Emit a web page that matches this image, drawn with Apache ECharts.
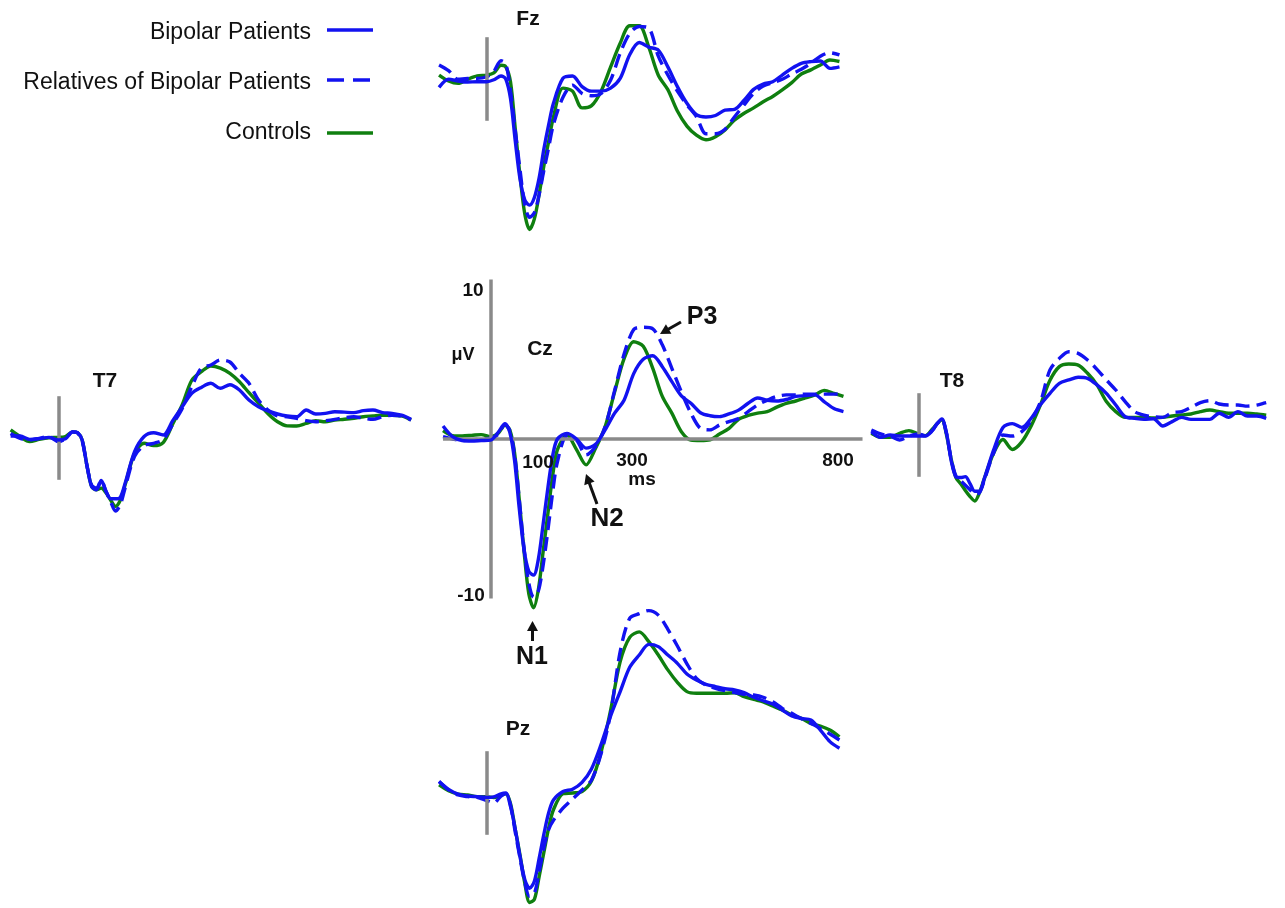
<!DOCTYPE html>
<html>
<head>
<meta charset="utf-8">
<script src="https://cdn.jsdelivr.net/npm/echarts@6/dist/echarts.min.js"></script>
<style>
html,body{margin:0;padding:0;background:#ffffff;}
#chart{width:1285px;height:908px;}
</style>
</head>
<body>
<div id="chart"></div>
<script>
// ---------------- DATA ----------------
// sample times (ms)
const times = [-100,-80,-60,-40,-20,0,15,30,40,50,60,70,80,90,100,110,120,130,140,160,180,200,220,240,260,280,300,320,340,360,380,400,420,440,460,480,500,520,540,560,580,600,620,640,660,680,700,720,740];

const groupNames = ['Bipolar Patients', 'Relatives of Bipolar Patients', 'Controls'];
const electrodeNames = ['Fz', 'T7', 'Cz', 'T8', 'Pz'];
const xTickLabels = ['100', '300', '800'];
const yTickLabels = ['10', '-10'];
const xUnit = 'ms';
const yUnit = 'μV';
const componentLabels = ['P3', 'N2', 'N1'];

// amplitudes (µV)
const fzBipolar   = [-0.55,-0.02,-0.13,-0.2,-0.18,-0.18,-0.05,0.2, 0.0,-1.3,-4.1,-6.6,-7.96,-8.3,-7.8,-6.5,-4.6,-3.0,-1.6, 0.05,0.2,-0.5,-0.8,-0.8,-0.6,0.04,1.6,2.4,2.1,1.9,0.8,-0.5,-1.6,-2.35,-2.5,-2.4,-2.05,-2.0,-1.4,-0.68,-0.33,-0.18,0.26,0.7,1.03,1.14,1.18,0.7,0.8];
const fzRelatives = [0.92,0.55,-0.02,0.04,0.04,0.15,0.5,1.2, 1.0,-0.8,-3.4,-6.0,-8.3,-9.1,-8.8,-7.6,-6.0,-4.5,-3.0, -1.2,-0.4,-0.95,-1.1,-0.95,-0.07,1.7,3.0,3.45,3.35,1.5,0.26,-0.8,-1.7,-2.48,-3.6,-3.6,-3.3,-2.48,-1.7,-0.95,-0.46,-0.24,-0.02,0.33,0.64,1.03,1.5,1.73,1.58];
const fzControls  = [0.26,-0.13,-0.29,-0.02,0.2,0.26,0.4,0.9, 0.8,-0.2,-3.3,-6.4,-8.9,-9.9,-9.2,-7.6,-5.7,-4.1,-2.5, -0.6,-0.8,-1.9,-1.75,-0.8,0.8,2.35,3.5,3.5,2.1,0.25,-0.7,-2.1,-3.1,-3.7,-4.0,-3.8,-3.35,-2.7,-2.25,-1.9,-1.5,-1.15,-0.72,-0.24,0.33,0.6,0.92,1.25,1.15];

const t7Bipolar   = [0.13,0.13,-0.09,-0.04,0.04,-0.13,-0.05,0.4, 0.35,-0.13,-1.8,-3.2,-3.4,-2.8,-3.5,-4.0,-4.0,-3.9,-3.0, -0.9,0.1,0.35,0.2,1.14,2.06,2.94,3.33,3.6,3.27,3.5,3.16,2.5,2.06,1.78,1.58,1.45,1.4,1.84,1.58,1.62,1.73,1.7,1.67,1.8,1.84,1.67,1.62,1.5,1.23];
const t7Relatives = [0.3,-0.02,-0.13,-0.02,0.09,-0.24,-0.05,0.4, 0.35,-0.2,-1.8,-3.1,-3.3,-2.8,-3.5,-4.2,-4.8,-4.4,-3.3, -1.2,-0.5,-0.35,-0.1,0.9,1.95,3.38,4.6,4.8,5.13,5.0,4.25,3.6,2.5,1.84,1.45,1.4,1.3,1.14,1.07,1.14,1.23,1.34,1.4,1.3,1.23,1.4,1.5,1.45,1.18];
const t7Controls  = [0.53,0.09,-0.24,-0.09,0.02,0.04,0.1,0.4, 0.35,-0.13,-1.8,-3.2,-3.4,-3.3,-3.6,-4.1,-4.5,-4.1,-3.1, -1.0,-0.35,-0.5,-0.3,0.92,2.2,3.8,4.36,4.74,4.6,4.25,3.7,2.98,2.3,1.6,1.07,0.8,0.79,0.96,1.14,1.07,1.18,1.23,1.3,1.4,1.45,1.5,1.5,1.45,1.18];

const czBipolar   = [0.85,0.15,-0.1,-0.13,-0.1,-0.07,0.4,1.0, 0.45,-1.4,-4.6,-7.3,-8.7,-8.95,-7.9,-5.6,-3.2,-1.1,0.0, 0.37,0.0,-0.6,-0.35,0.6,1.7,2.57,4.3,5.24,5.48,4.76,3.77,2.83,2.35,1.73,1.53,1.47,1.65,1.9,2.35,2.7,2.55,2.5,2.6,2.8,2.85,2.9,2.45,2.0,1.8];
const czRelatives = [0.15,0,-0.1,-0.07,0,0.05,0.3,0.95, 0.55,-1.0,-4.0,-7.2,-9.5,-10.4,-10.0,-8.3,-6.0,-3.5,-1.5, 0.2,-0.07,-1.05,-0.5,0.8,3.2,5.6,7.2,7.35,7.25,6.2,4.65,3.1,1.7,0.7,0.6,0.92,1.15,1.35,1.8,2.25,2.55,2.8,2.9,2.9,2.95,2.95,2.95,2.95,3.0];
const czControls  = [0.55,0.22,0.2,0.24,0.29,0.15,0.35,0.9, 0.6,-0.9,-4.0,-7.4,-10.2,-11.1,-9.9,-7.4,-4.9,-2.4,-0.7, 0.26,-0.7,-1.7,-0.6,0.8,3.1,5.3,6.4,6.1,4.65,2.8,1.7,0.48,-0.07,-0.1,-0.05,0.33,0.7,1.3,1.55,1.7,1.8,2.1,2.35,2.5,2.7,2.9,3.2,3.0,2.8];

const t8Bipolar   = [0.22,-0.15,0,-0.07,-0.07,-0.07,-0.07,0.3, 0.75,1.05,0.1,-1.7,-2.75,-2.8,-2.74,-3.2,-3.7,-3.7,-2.9, -1.0,0.5,0.75,0.5,1.1,2.0,2.74,3.4,3.62,3.8,3.73,3.3,2.74,1.97,1.2,1.1,1.03,1.07,0.59,0.88,1.16,1.03,1.03,1.03,1.43,1.16,1.54,1.25,1.25,1.1];
const t8Relatives = [0.33,0.07,-0.07,-0.33,-0.07,0.07,-0.05,0.3, 0.75,1.0,0.1,-1.6,-2.7,-3.0,-3.3,-3.6,-3.9,-3.8,-3.0, -1.2,0,-0.07,0.22,0.94,2.2,4.28,5.04,5.48,5.37,4.93,4.32,3.62,2.96,2.2,1.54,1.3,1.2,1.16,1.47,1.54,1.82,2.13,2.26,2.04,1.97,1.97,1.9,1.97,2.13];
const t8Controls  = [0.11,-0.15,-0.15,0.11,0.29,0.07,-0.05,0.4, 0.75,1.0,0.0,-1.6,-2.8,-3.2,-3.65,-4.05,-4.34,-3.8,-2.9, -1.2,-0.3,-0.95,-0.45,0.6,2.0,3.6,4.5,4.67,4.6,4.06,3.3,2.2,1.54,1.16,1.16,1.16,1.12,1.16,1.25,1.32,1.38,1.54,1.64,1.54,1.43,1.43,1.43,1.38,1.3];

const pzBipolar   = [0.75,0.24,-0.07,-0.2,-0.24,-0.29,-0.25,-0.05, 0.0,-0.9,-2.4,-4.2,-5.7,-6.27,-5.8,-4.3,-2.7,-1.3,-0.46, 0.1,0.25,0.7,1.6,3.2,5.07,6.67,8.27,9.08,9.78,9.63,9.08,8.53,7.83,7.43,7.15,7.0,6.86,6.78,6.6,6.3,6.07,5.86,5.46,5.07,4.9,4.8,4.14,3.38,2.94];
const pzRelatives = [0.75,0.2,-0.13,-0.24,-0.29,-0.5,-0.65,-0.2, -0.05,-0.8,-2.6,-4.3,-5.9,-6.8,-6.6,-5.2,-3.6,-2.4,-1.8, -1.0,-0.4,0.2,0.86,2.6,5.24,9.3,11.5,11.8,12.0,11.7,10.77,9.67,8.5,7.54,7.1,6.89,6.73,6.6,6.5,6.45,6.3,6.0,5.57,5.24,4.9,4.58,4.25,3.88,3.49];
const pzControls  = [0.53,0.15,-0.07,-0.13,-0.24,-0.24,-0.3,-0.15, -0.05,-0.7,-2.4,-4.1,-5.94,-7.2,-7.0,-5.5,-3.9,-2.3,-1.1, -0.05,0.0,0.1,0.8,2.7,5.46,8.64,10.24,10.6,9.96,9.08,8.1,7.28,6.67,6.56,6.56,6.56,6.56,6.6,6.34,6.16,6.0,5.72,5.46,5.13,4.91,4.58,4.4,4.14,3.7];

// ---------------- LAYOUT / STYLE ----------------
const PX_PER_MS = 0.4767, PX_PER_UV = 15.2;
const X_MIN = -100, X_MAX = 780;
const BLUE = '#1212f0', GREEN = '#0f7f0f', AXIS_GRAY = '#8a8a8a';
const FONT = '"Liberation Sans", Arial, Helvetica, sans-serif';

const panelLayout = {
  Fz: {x0: 486.7, y0: 79,  ymin: -11,  ymax: 5,    stim: 2.75},
  T7: {x0: 58.3,  y0: 438, ymin: -7,   ymax: 7,    stim: 2.75},
  Cz: {x0: 490.7, y0: 439, ymin: -12,  ymax: 11,   stim: 10.5},
  T8: {x0: 919,   y0: 435, ymin: -7,   ymax: 7,    stim: 2.75},
  Pz: {x0: 486.7, y0: 793, ymin: -7.5, ymax: 12.5, stim: 2.75}
};

const waves = {
  Fz: [fzBipolar, fzRelatives, fzControls],
  T7: [t7Bipolar, t7Relatives, t7Controls],
  Cz: [czBipolar, czRelatives, czControls],
  T8: [t8Bipolar, t8Relatives, t8Controls],
  Pz: [pzBipolar, pzRelatives, pzControls]
};

const groupStyle = [
  {color: BLUE,  type: 'solid', z: 5},
  {color: BLUE,  type: [14, 7], z: 4},
  {color: GREEN, type: 'solid', z: 3}
];

const grids = [], xAxes = [], yAxes = [], series = [];
electrodeNames.forEach((el, i) => {
  const L = panelLayout[el];
  grids.push({
    left: L.x0 + X_MIN * PX_PER_MS,
    width: (X_MAX - X_MIN) * PX_PER_MS,
    top: L.y0 - L.ymax * PX_PER_UV,
    height: (L.ymax - L.ymin) * PX_PER_UV,
    containLabel: false
  });
  xAxes.push({type: 'value', gridIndex: i, min: X_MIN, max: X_MAX, show: false});
  yAxes.push({type: 'value', gridIndex: i, min: L.ymin, max: L.ymax, show: false});

  // reference lines (stimulus onset / Cz axes)
  const refLines = [[{coord: [0, -L.stim]}, {coord: [0, L.stim]}]];
  if (el === 'Cz') refLines.push([{coord: [X_MIN, 0]}, {coord: [X_MAX, 0]}]);
  series.push({
    type: 'line', name: el + ' axes', xAxisIndex: i, yAxisIndex: i, z: 1,
    data: times.map(t => [t, null]), showSymbol: false, silent: true,
    markLine: {
      silent: true, symbol: ['none', 'none'], animation: false,
      label: {show: false},
      lineStyle: {color: AXIS_GRAY, width: 3.5, type: 'solid'},
      emphasis: {disabled: true},
      data: refLines
    }
  });

  // waveforms: controls first, then relatives, then patients on top
  [2, 1, 0].forEach(g => {
    series.push({
      type: 'line', name: groupNames[g], xAxisIndex: i, yAxisIndex: i,
      z: groupStyle[g].z,
      data: times.map((t, k) => [t, waves[el][g][k]]),
      showSymbol: false, smooth: 0.3, clip: false, silent: true,
      lineStyle: {color: groupStyle[g].color, width: 3.4, type: groupStyle[g].type, cap: 'butt'},
      itemStyle: {color: groupStyle[g].color},
      emphasis: {disabled: true}
    });
  });
});

// ---------------- TEXT / ANNOTATIONS ----------------
function txt(str, x, y, size, weight, align) {
  return {
    type: 'text', x: x, y: y, z: 100, silent: true,
    style: {
      text: str, fill: '#111', font: (weight || 'bold') + ' ' + size + 'px ' + FONT,
      align: align || 'center', verticalAlign: 'middle',
      textAlign: align || 'center', textVerticalAlign: 'middle'
    }
  };
}
function arrow(x1, y1, x2, y2) {
  const dx = x2 - x1, dy = y2 - y1, len = Math.hypot(dx, dy);
  const ux = dx / len, uy = dy / len, hl = 10, hw = 5.5;
  const bx = x2 - ux * hl, by = y2 - uy * hl;
  return [
    {type: 'line', z: 100, silent: true, shape: {x1: x1, y1: y1, x2: bx + ux, y2: by + uy},
     style: {stroke: '#111', lineWidth: 3}},
    {type: 'polygon', z: 100, silent: true,
     shape: {points: [[x2, y2], [bx - uy * hw, by + ux * hw], [bx + uy * hw, by - ux * hw]]},
     style: {fill: '#111'}}
  ];
}

const titlePos = {Fz: [528, 19], T7: [105, 381], Cz: [540, 349], T8: [952, 381], Pz: [518, 729]};
const graphics = [];
electrodeNames.forEach(el => graphics.push(txt(el, titlePos[el][0], titlePos[el][1], 21)));
graphics.push(txt(yUnit, 463, 355, 18));
graphics.push(txt(yTickLabels[0], 473, 291, 19));
graphics.push(txt(yTickLabels[1], 471, 596, 19));
graphics.push(txt(xTickLabels[0], 538, 463, 19));
graphics.push(txt(xTickLabels[1], 632, 461, 19));
graphics.push(txt(xTickLabels[2], 838, 461, 19));
graphics.push(txt(xUnit, 642, 480, 19));
graphics.push(txt(componentLabels[0], 702, 317, 25));
graphics.push(txt(componentLabels[1], 607, 519, 26));
graphics.push(txt(componentLabels[2], 532, 657, 25));
graphics.push(...arrow(681, 322, 660, 334));
graphics.push(...arrow(597, 504, 586, 474));
graphics.push(...arrow(532.5, 641, 532.5, 621));

// legend (text left of line sample, right-aligned)
const legendRows = [
  {y: 33, line: 30, color: BLUE, dash: null},
  {y: 83, line: 80, color: BLUE, dash: [17, 9]},
  {y: 133, line: 133, color: GREEN, dash: null}
];
groupNames.forEach((n, k) => {
  const r = legendRows[k];
  graphics.push(txt(n, 311, r.y, 23, 'normal', 'right'));
  graphics.push({
    type: 'line', z: 100, silent: true,
    shape: {x1: 327, y1: r.line, x2: 373, y2: r.line},
    style: {stroke: r.color, lineWidth: 3.6, lineDash: r.dash}
  });
});

const chart = echarts.init(document.getElementById('chart'), null, {renderer: 'canvas'});
chart.setOption({
  animation: false,
  backgroundColor: '#ffffff',
  grid: grids,
  xAxis: xAxes,
  yAxis: yAxes,
  series: series,
  graphic: {elements: graphics}
});
</script>
</body>
</html>
